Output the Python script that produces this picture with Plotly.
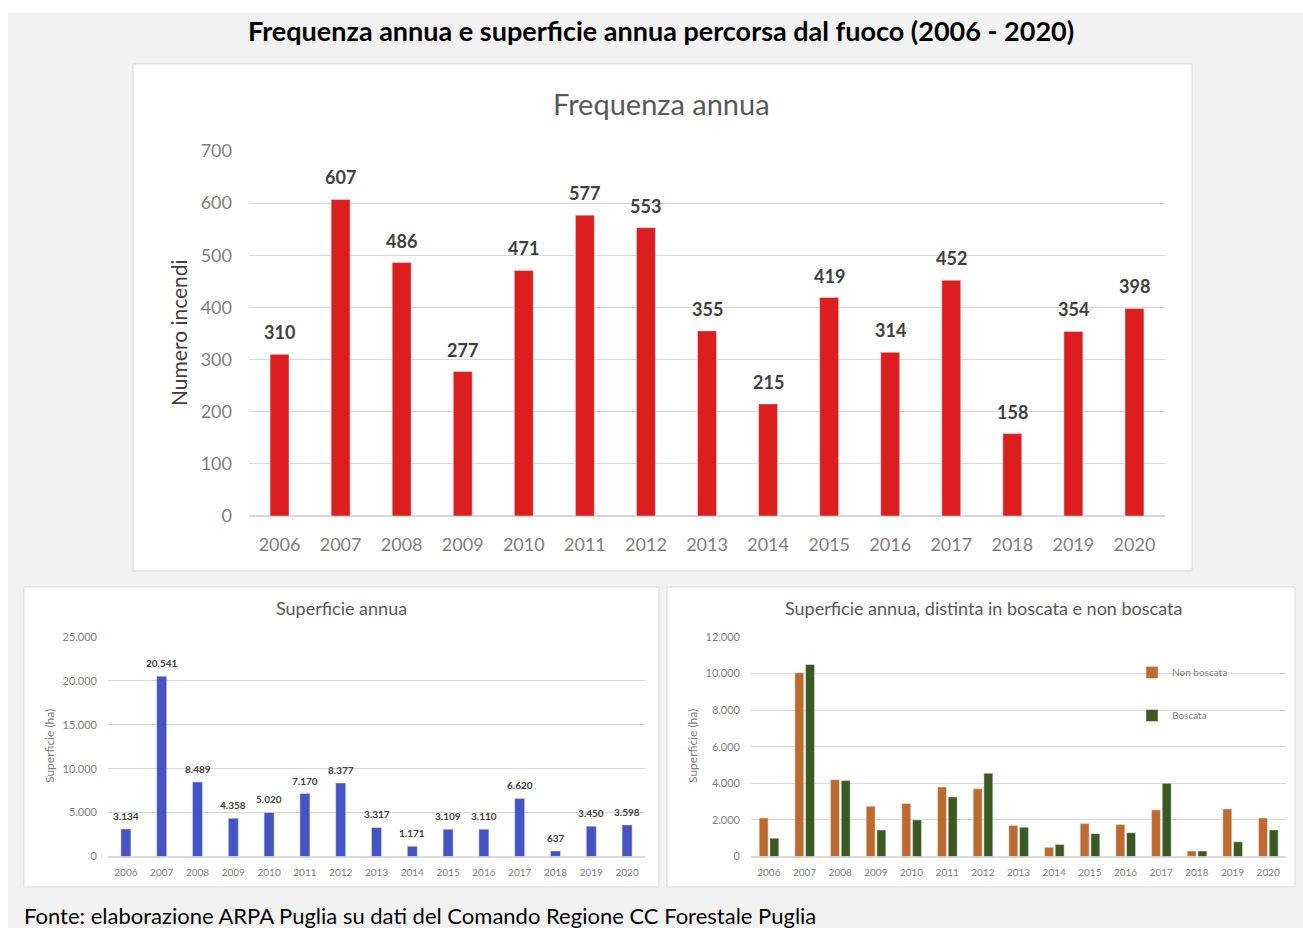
import plotly.graph_objects as go

W, H = 1303, 928

years = [str(y) for y in range(2006, 2021)]
frequenza = [310, 607, 486, 277, 471, 577, 553, 355, 215, 419, 314, 452, 158, 354, 398]
superficie = [3134, 20541, 8489, 4358, 5020, 7170, 8377, 3317, 1171, 3109, 3110, 6620, 637, 3450, 3598]
non_boscata = [2100, 10050, 4200, 2750, 2900, 3800, 3700, 1700, 500, 1800, 1750, 2550, 300, 2600, 2100]
boscata = [1000, 10500, 4150, 1450, 2000, 3250, 4550, 1600, 650, 1250, 1300, 4000, 300, 800, 1450]

FONT = "Lato"
TICK = "#7f7f7f"
DARK = "#404040"
GRID = "#d9d9d9"


def px(x):
    return x / W


def py(y):
    return 1 - y / H


fig = go.Figure()

fig.add_trace(go.Bar(x=years, y=frequenza, marker_color="#DC1E1E", width=0.31,
                     xaxis="x", yaxis="y", showlegend=False))
fig.add_trace(go.Bar(x=years, y=superficie, marker_color="#4454C4", width=0.28,
                     xaxis="x2", yaxis="y2", showlegend=False))
fig.add_trace(go.Bar(x=years, y=non_boscata, marker_color="#BE6A2E", width=0.25, offset=-0.27,
                     xaxis="x3", yaxis="y3", name="Non boscata", legendgroup="a"))
fig.add_trace(go.Bar(x=years, y=boscata, marker_color="#3A5A22", width=0.25, offset=0.03,
                     xaxis="x3", yaxis="y3", name="Boscata", legendgroup="b"))

shapes = [
    dict(type="rect", xref="paper", yref="paper", x0=px(8), x1=px(1303), y0=py(928), y1=py(13),
         fillcolor="#f2f2f2", line_width=0, layer="below"),
    dict(type="rect", xref="paper", yref="paper", x0=px(133), x1=px(1192), y0=py(571), y1=py(64),
         fillcolor="white", line=dict(color=GRID, width=1), layer="below"),
    dict(type="rect", xref="paper", yref="paper", x0=px(24), x1=px(659), y0=py(887), y1=py(587),
         fillcolor="white", line=dict(color=GRID, width=1), layer="below"),
    dict(type="rect", xref="paper", yref="paper", x0=px(667), x1=px(1295), y0=py(887), y1=py(587),
         fillcolor="white", line=dict(color=GRID, width=1), layer="below"),
]

annotations = [
    dict(text="<b>Frequenza annua e superficie annua percorsa dal fuoco (2006 - 2020)</b>",
         x=px(661), y=py(30), xref="paper", yref="paper", showarrow=False,
         font=dict(family=FONT, size=27, color="#000000"), xanchor="center", yanchor="middle"),
    dict(text="Fonte: elaborazione ARPA Puglia su dati del Comando Regione CC Forestale Puglia",
         x=px(22), y=py(915), xref="paper", yref="paper", showarrow=False,
         font=dict(family=FONT, size=22, color="#000000"), xanchor="left", yanchor="middle"),
    dict(text="Frequenza annua", x=px(661), y=py(104), xref="paper", yref="paper", showarrow=False,
         font=dict(family=FONT, size=29, color="#595959"), xanchor="center", yanchor="middle"),
    dict(text="Numero incendi", x=px(178), y=py(333), xref="paper", yref="paper", showarrow=False,
         textangle=-90, font=dict(family=FONT, size=21, color=DARK), xanchor="center", yanchor="middle"),
    dict(text="Superficie annua", x=px(341), y=py(608), xref="paper", yref="paper", showarrow=False,
         font=dict(family=FONT, size=18, color="#595959"), xanchor="center", yanchor="middle"),
    dict(text="Superficie (ha)", x=px(49), y=py(746), xref="paper", yref="paper", showarrow=False,
         textangle=-90, font=dict(family=FONT, size=12, color=TICK), xanchor="center", yanchor="middle"),
    dict(text="Superficie annua, distinta in boscata e non boscata", x=px(983), y=py(608),
         xref="paper", yref="paper", showarrow=False,
         font=dict(family=FONT, size=18, color="#595959"), xanchor="center", yanchor="middle"),
    dict(text="Superficie (ha)", x=px(692), y=py(746), xref="paper", yref="paper", showarrow=False,
         textangle=-90, font=dict(family=FONT, size=12, color=TICK), xanchor="center", yanchor="middle"),
]

for i, v in enumerate(frequenza):
    annotations.append(dict(text=f"<b>{v}</b>", x=i, y=v, xref="x", yref="y", showarrow=False,
                            yanchor="bottom", yshift=9,
                            font=dict(family=FONT, size=18, color=DARK)))


def ita(v):
    return f"{v:,}".replace(",", ".")


for i, v in enumerate(superficie):
    annotations.append(dict(text=f"<b>{ita(v)}</b>", x=i, y=v, xref="x2", yref="y2", showarrow=False,
                            yanchor="bottom", yshift=5,
                            font=dict(family=FONT, size=10, color=DARK)))

xcommon = dict(type="category", showgrid=False, zeroline=False, showline=False, ticks="",
               automargin=False, range=[-0.5, 14.5])
ycommon = dict(showgrid=True, gridcolor=GRID, gridwidth=1, zeroline=True, zerolinecolor=GRID,
               showline=False, ticks="", automargin=False)

fig.update_layout(
    width=W, height=H, margin=dict(l=0, r=0, t=0, b=0, autoexpand=False),
    paper_bgcolor="white", plot_bgcolor="rgba(0,0,0,0)",
    separators=",.",
    barmode="overlay",
    shapes=shapes, annotations=annotations,
    xaxis=dict(xcommon, domain=[px(249), px(1165)], anchor="y",
               tickfont=dict(family=FONT, size=18, color=TICK), ticklabelstandoff=16),
    yaxis=dict(ycommon, domain=[py(516), py(151)], anchor="x", range=[0, 700], dtick=100,
               tickfont=dict(family=FONT, size=18, color=TICK), ticklabelstandoff=16),
    xaxis2=dict(xcommon, domain=[px(108), px(645)], anchor="y2",
                tickfont=dict(family=FONT, size=10, color=TICK), ticklabelstandoff=8),
    yaxis2=dict(ycommon, domain=[py(856.5), py(637)], anchor="x2", range=[0, 25000], dtick=5000,
                tickformat=",d", tickfont=dict(family=FONT, size=11, color=TICK), ticklabelstandoff=10),
    xaxis3=dict(xcommon, domain=[px(751), px(1286)], anchor="y3",
                tickfont=dict(family=FONT, size=10, color=TICK), ticklabelstandoff=8),
    yaxis3=dict(ycommon, domain=[py(856.5), py(637)], anchor="x3", range=[0, 12000], dtick=2000,
                tickformat=",d", tickfont=dict(family=FONT, size=11, color=TICK), ticklabelstandoff=10),
    legend=dict(x=px(1132), y=py(658), xanchor="left", yanchor="top", bgcolor="rgba(0,0,0,0)",
                font=dict(family=FONT, size=10, color=TICK), traceorder="grouped",
                tracegroupgap=24, itemwidth=30),
)

fig.write_html("out.html")
